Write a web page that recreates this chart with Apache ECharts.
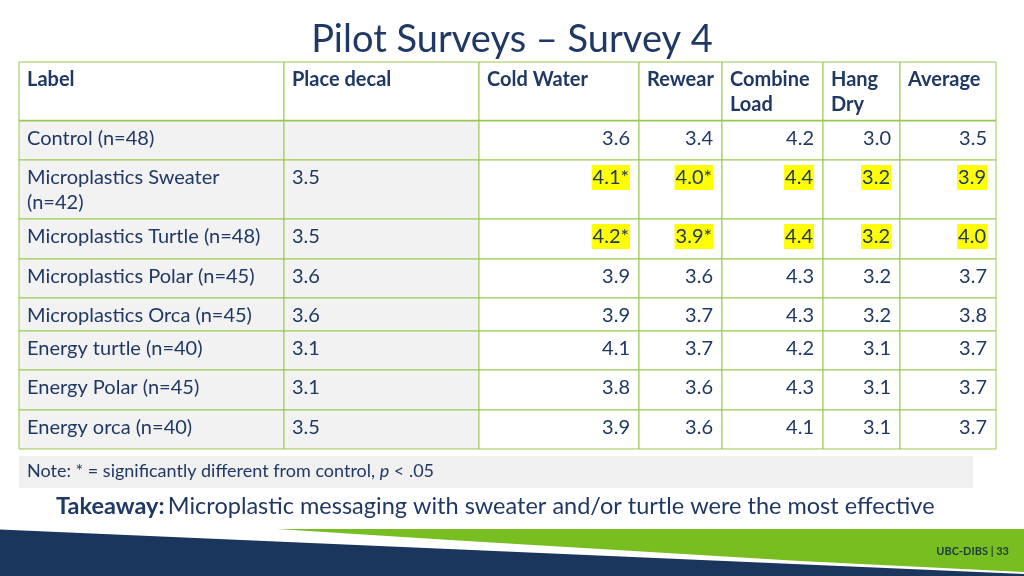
<!DOCTYPE html>
<html>
<head>
<meta charset="utf-8">
<script src="https://cdn.jsdelivr.net/npm/echarts@6/dist/echarts.min.js"></script>
<style>
  html, body { margin: 0; padding: 0; background: #fff; }
  #chart { width: 1024px; height: 576px; }
</style>
</head>
<body>
<div id="chart"></div>
<script>
  // table content
  var headers = ['Label', 'Place decal', 'Cold Water', 'Rewear', 'Combine\nLoad', 'Hang\nDry', 'Average'];
  var rowLabels = [
    'Control (n=48)',
    'Microplastics Sweater\n(n=42)',
    'Microplastics Turtle (n=48)',
    'Microplastics Polar (n=45)',
    'Microplastics Orca (n=45)',
    'Energy turtle (n=40)',
    'Energy Polar (n=45)',
    'Energy orca (n=40)'
  ];
  var placeDecal  = [null, 3.5, 3.5, 3.6, 3.6, 3.1, 3.1, 3.5];
  var coldWater   = [3.6, 4.1, 4.2, 3.9, 3.9, 4.1, 3.8, 3.9];
  var rewear      = [3.4, 4.0, 3.9, 3.6, 3.7, 3.7, 3.6, 3.6];
  var combineLoad = [4.2, 4.4, 4.4, 4.3, 4.3, 4.2, 4.3, 4.1];
  var hangDry     = [3.0, 3.2, 3.2, 3.2, 3.2, 3.1, 3.1, 3.1];
  var average     = [3.5, 3.9, 4.0, 3.7, 3.8, 3.7, 3.7, 3.7];
  // * = significantly different from control
  var coldWaterSig = [0, 1, 1, 0, 0, 0, 0, 0];
  var rewearSig    = [0, 1, 1, 0, 0, 0, 0, 0];
  // rows marked in yellow (numeric columns only)
  var highlightRows = [1, 2];

  // layout: column / row edges in table units (px from table corner)
  var colEdges = [0, 265, 460, 620, 703, 804, 881, 977];
  var rowEdges = [0, 59, 98, 157, 197, 236, 269, 308, 348, 387];

  var navy = '#1F3864';
  var lineGreen = '#98C84E';
  var fontFam = 'Lato, "Open Sans", sans-serif';

  function fmt(v, sig) {
    if (v == null) return '';
    return v.toFixed(1) + (sig ? '*' : '');
  }

  // build cell list
  var cells = [];
  headers.forEach(function (h, c) {
    cells.push({ col: c, row: 0, text: h, head: true });
  });
  rowLabels.forEach(function (lab, i) {
    var r = i + 1;
    var hl = highlightRows.indexOf(i) >= 0;
    cells.push({ col: 0, row: r, text: lab, gray: true });
    cells.push({ col: 1, row: r, text: fmt(placeDecal[i]), gray: true });
    cells.push({ col: 2, row: r, text: fmt(coldWater[i], coldWaterSig[i]), right: true, hl: hl });
    cells.push({ col: 3, row: r, text: fmt(rewear[i], rewearSig[i]), right: true, hl: hl });
    cells.push({ col: 4, row: r, text: fmt(combineLoad[i]), right: true, hl: hl });
    cells.push({ col: 5, row: r, text: fmt(hangDry[i]), right: true, hl: hl });
    cells.push({ col: 6, row: r, text: fmt(average[i]), right: true, hl: hl });
  });

  var chart = echarts.init(document.getElementById('chart'));

  function renderCell(params, api) {
    var cell = cells[params.dataIndex];
    var c = api.value(0), r = api.value(1);
    var p0 = api.coord([colEdges[c], rowEdges[r]]);
    var p1 = api.coord([colEdges[c + 1], rowEdges[r + 1]]);
    var x = p0[0], y = p0[1], w = p1[0] - p0[0], h = p1[1] - p0[1];
    var children = [{
      type: 'rect',
      shape: { x: x, y: y, width: w, height: h },
      style: { fill: cell.gray ? '#F2F2F2' : '#ffffff', stroke: lineGreen, lineWidth: 1 }
    }];
    if (cell.head) {
      children.push({
        type: 'line',
        shape: { x1: x, y1: y + h, x2: x + w, y2: y + h },
        style: { stroke: lineGreen, lineWidth: 2.5 }
      });
    }
    if (cell.text) {
      children.push({
        type: 'text',
        z2: 10,
        style: {
          text: cell.text,
          x: cell.right ? x + w - 9 : x + 8,
          y: y + 5,
          align: cell.right ? 'right' : 'left',
          verticalAlign: 'top',
          lineHeight: 25,
          fontFamily: fontFam,
          fontSize: 20,
          fontWeight: cell.head ? 'bold' : 'normal',
          fill: navy,
          backgroundColor: cell.hl ? '#FFFF00' : null,
          padding: cell.hl ? [0, 1, 0, 1] : 0
        }
      });
    }
    return { type: 'group', children: children };
  }

  chart.setOption({
    animation: false,
    backgroundColor: '#ffffff',
    title: {
      text: 'Pilot Surveys – Survey 4',
      left: 'center',
      top: 16,
      textStyle: { color: navy, fontFamily: fontFam, fontSize: 38, fontWeight: 'normal' }
    },
    grid: { left: 19, top: 62, width: 977, height: 387 },
    xAxis: { type: 'value', min: 0, max: 977, show: false },
    yAxis: { type: 'value', min: 0, max: 387, inverse: true, show: false },
    series: [{
      type: 'custom',
      renderItem: renderCell,
      data: cells.map(function (d) { return [d.col, d.row]; })
    }],
    graphic: [
      // note band
      { type: 'rect', shape: { x: 19, y: 456, width: 954, height: 32 }, style: { fill: '#F0F0F0' } },
      {
        type: 'text', left: 27, top: 462,
        style: {
          text: '{n|Note: * = significantly different from control, }{i|p}{n| < .05}',
          rich: {
            n: { fontFamily: fontFam, fontSize: 18, fill: navy },
            i: { fontFamily: fontFam, fontSize: 18, fill: navy, fontStyle: 'italic' }
          }
        }
      },
      {
        type: 'text', left: 56, top: 494,
        style: {
          text: '{b|Takeaway:} {n|Microplastic messaging with sweater and/or turtle were the most effective}',
          rich: {
            b: { fontFamily: fontFam, fontSize: 23.5, fontWeight: 'bold', fill: navy },
            n: { fontFamily: fontFam, fontSize: 23.5, fill: navy }
          }
        }
      },
      // footer bands
      {
        type: 'polygon',
        shape: { points: [[277, 529], [1024, 529], [1024, 572], [800, 561], [450, 540]] },
        style: { fill: '#78BE21' }
      },
      {
        type: 'polygon',
        shape: { points: [[0, 529.5], [1024, 574], [1024, 576], [0, 576]] },
        style: { fill: '#1B365D' }
      },
      {
        type: 'text', right: 15, top: 546,
        style: { text: 'UBC-DIBS | 33', fontFamily: fontFam, fontSize: 11, fontWeight: 'bold', fill: '#1F3A3A' }
      }
    ]
  });
</script>
</body>
</html>
